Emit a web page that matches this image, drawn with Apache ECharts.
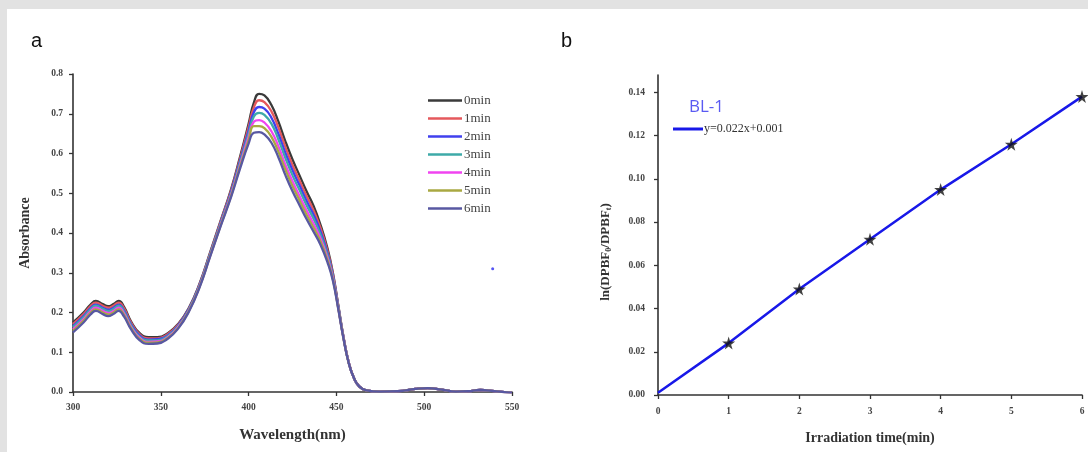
<!doctype html>
<html>
	<head>
		<meta charset="utf-8">
		<title>DPBF</title>
		<style>
			html, body { margin: 0; padding: 0; background: #e2e2e2; }
			#chart { width: 1088px; height: 452px; }
		</style>
	</head>
	<body>
		<div id="chart"></div>
	</body>
	<script src="https://cdn.jsdelivr.net/npm/echarts@6/dist/echarts.min.js"></script>
	<script type="text/javascript">
		// 波长 (nm)
		var wavelength = [300, 306, 310, 313, 317, 320, 323, 326, 329, 333, 338, 343, 348, 354, 360, 366, 372, 378, 384, 390,
			395, 400, 403, 406, 409, 413, 417, 421, 425, 429, 433, 437, 441, 445, 448, 451, 454, 457, 460, 463,
			467, 475, 485, 495, 502, 510, 518, 525, 532, 540, 550];
		var abs0 = [.175, .200, .220, .229, .221, .216, .221, .229, .215, .178, .148, .138, .138, .148, .172, .212, .272, .350, .430, .510,
			.590, .675, .728, .750, .746, .722, .680, .630, .585, .545, .505, .468, .420, .360, .300, .220, .140, .075, .035, .014,
			.004, .001, .002, .008, .010, .006, .001, .002, .005, .002, -.002];
		var abs1 = [.171, .196, .216, .225, .217, .212, .217, .225, .211, .175, .145, .135, .135, .146, .170, .210, .270, .348, .428, .507,
			.585, .667, .716, .734, .729, .706, .665, .616, .571, .532, .493, .457, .412, .354, .297, .218, .139, .075, .035, .014,
			.004, .001, .002, .008, .010, .006, .001, .002, .005, .002, -.002];
		var abs2 = [.166, .191, .211, .220, .212, .207, .212, .220, .206, .171, .142, .132, .133, .143, .168, .209, .269, .346, .425, .503,
			.580, .658, .704, .717, .713, .690, .649, .601, .558, .520, .481, .446, .403, .348, .293, .217, .138, .074, .035, .014,
			.004, .001, .002, .008, .010, .006, .001, .002, .005, .002, -.002];
		var abs3 = [.163, .188, .208, .217, .209, .204, .209, .217, .203, .168, .139, .130, .130, .141, .166, .207, .267, .345, .423, .500,
			.575, .650, .693, .702, .697, .675, .635, .588, .545, .508, .470, .436, .395, .343, .290, .215, .138, .074, .035, .014,
			.004, .001, .002, .008, .010, .006, .001, .002, .005, .002, -.002];
		var abs4 = [.158, .183, .203, .212, .204, .199, .204, .212, .198, .164, .136, .126, .127, .138, .164, .205, .265, .342, .420, .496,
			.569, .641, .680, .684, .678, .656, .618, .571, .530, .493, .457, .423, .386, .336, .286, .213, .137, .074, .035, .014,
			.004, .001, .002, .008, .010, .006, .001, .002, .005, .002, -.002];
		var abs5 = [.154, .179, .199, .208, .200, .195, .200, .208, .194, .161, .133, .124, .125, .136, .162, .204, .264, .341, .418, .493,
			.565, .633, .669, .669, .664, .642, .604, .559, .518, .482, .446, .413, .378, .331, .283, .212, .136, .073, .035, .014,
			.004, .001, .002, .008, .010, .006, .001, .002, .005, .002, -.002];
		var abs6 = [.150, .175, .195, .204, .196, .191, .196, .204, .190, .158, .130, .121, .122, .134, .160, .202, .262, .339, .416, .490,
			.560, .625, .652, .654, .648, .627, .590, .545, .505, .470, .435, .403, .370, .325, .280, .210, .135, .073, .035, .014,
			.004, .001, .002, .008, .010, .006, .001, .002, .005, .002, -.002];
		var timeNames = ['0min', '1min', '2min', '3min', '4min', '5min', '6min'];
		var timeColors = ['#3a3a3a', '#e5585c', '#4040ee', '#3eaaa8', '#f044f0', '#a9a842', '#5858a2'];
		var strayDot = [[539, 0.31]];

		// 辐照时间
		var irrTime = [0, 1, 2, 3, 4, 5, 6];
		var lnRatio = [0.001, 0.024, 0.049, 0.072, 0.095, 0.116, 0.138];
		var fitName = 'y=0.022x+0.001';

		var serif = '"Liberation Serif", "DejaVu Serif", serif';
		var star = 'path://M50,0 L61,35 L98,35 L68,57 L79,91 L50,70 L21,91 L32,57 L2,35 L39,35 Z';

		function pairs(xs, ys) {
			return xs.map(function (x, i) { return [x, ys[i]]; });
		}
		var absData = [abs0, abs1, abs2, abs3, abs4, abs5, abs6];

		var tickLabel = { fontFamily: serif, fontWeight: 'bold', fontSize: 9.5, color: '#444' };
		var axisLine = { lineStyle: { color: '#333', width: 1.6 } };
		var axisTick = { length: 4, lineStyle: { color: '#333', width: 1.3 } };

		var series = timeNames.map(function (n, i) {
			return {
				name: n,
				type: 'line',
				xAxisIndex: 0,
				yAxisIndex: 0,
				showSymbol: false,
				smooth: 0.5,
				lineStyle: { width: 2.3, color: timeColors[i] },
				itemStyle: { color: timeColors[i] },
				data: pairs(wavelength, absData[i])
			};
		});
		series.push({
			type: 'scatter', xAxisIndex: 0, yAxisIndex: 0,
			symbolSize: 3, itemStyle: { color: '#2a2af0' }, data: strayDot
		});
		series.push({
			name: fitName,
			type: 'line',
			xAxisIndex: 1,
			yAxisIndex: 1,
			showSymbol: false,
			lineStyle: { width: 2.5, color: '#1818e8' },
			itemStyle: { color: '#1818e8' },
			data: pairs(irrTime, lnRatio)
		});
		series.push({
			name: 'BL-1',
			type: 'scatter',
			xAxisIndex: 1,
			yAxisIndex: 1,
			symbol: star,
			symbolSize: 13,
			itemStyle: { color: '#111' },
			z: 5,
			data: pairs(irrTime.slice(1), lnRatio.slice(1))
		});

		var option = {
			backgroundColor: '#e2e2e2',
			animation: false,
			graphic: [{
				type: 'rect', left: 7, top: 9, z: -10,
				shape: { width: 1081, height: 443 },
				style: { fill: '#ffffff' }
			}],
			title: [
				{ text: 'a', left: 26, top: 26, textStyle: { fontFamily: '"Liberation Sans", Arial, sans-serif', fontSize: 20, fontWeight: 'normal', color: '#111' } },
				{ text: 'b', left: 556, top: 26, textStyle: { fontFamily: '"Liberation Sans", Arial, sans-serif', fontSize: 20, fontWeight: 'normal', color: '#111' } },
				{ text: 'BL-1', left: 684, top: 94, textStyle: { fontFamily: '"Open Sans", "Noto Sans", sans-serif', fontSize: 17, fontWeight: 'normal', color: '#5a5af2' } }
			],
			legend: [{
				data: timeNames,
				orient: 'vertical',
				left: 423,
				top: 89,
				icon: 'rect',
				itemWidth: 34,
				itemHeight: 2.5,
				itemGap: 5,
				textStyle: { fontFamily: serif, fontSize: 13, color: '#444', padding: [0, 0, 0, -3] }
			}, {
				data: [fitName],
				left: 668,
				top: 118,
				icon: 'rect',
				itemWidth: 30,
				itemHeight: 3,
				textStyle: { fontFamily: serif, fontSize: 12, color: '#333', padding: [0, 0, 0, -4] }
			}],
			grid: [
				{ left: 73, right: 576, top: 74, bottom: 60 },
				{ left: 658, right: 6, top: 75, bottom: 57 }
			],
			xAxis: [{
				gridIndex: 0,
				type: 'value',
				min: 300, max: 550, interval: 50,
				name: 'Wavelength(nm)',
				nameLocation: 'middle',
				nameGap: 36,
				nameTextStyle: { fontFamily: serif, fontWeight: 'bold', fontSize: 15, color: '#333' },
				axisLine: axisLine, axisTick: axisTick,
				axisLabel: Object.assign({ margin: 11 }, tickLabel),
				splitLine: { show: false }
			}, {
				gridIndex: 1,
				type: 'value',
				min: 0, max: 6, interval: 1,
				name: 'Irradiation time(min)',
				nameLocation: 'middle',
				nameGap: 36,
				nameTextStyle: { fontFamily: serif, fontWeight: 'bold', fontSize: 14, color: '#333' },
				axisLine: axisLine, axisTick: axisTick,
				axisLabel: Object.assign({ margin: 12 }, tickLabel),
				splitLine: { show: false }
			}],
			yAxis: [{
				gridIndex: 0,
				type: 'value',
				min: 0, max: 0.8, interval: 0.1,
				name: 'Absorbance',
				nameLocation: 'middle',
				nameGap: 41,
				nameTextStyle: { fontFamily: serif, fontWeight: 'bold', fontSize: 14, color: '#333' },
				axisLine: axisLine, axisTick: axisTick,
				axisLabel: Object.assign({ margin: 10, formatter: function (v) { return v.toFixed(1); } }, tickLabel),
				splitLine: { show: false }
			}, {
				gridIndex: 1,
				type: 'value',
				min: 0, max: 0.148, interval: 0.02,
				name: 'ln(DPBF{sub|0}/DPBF{sub|t})',
				nameLocation: 'middle',
				nameGap: 45,
				nameTextStyle: {
					fontFamily: serif, fontWeight: 'bold', fontSize: 13, color: '#333', padding: [0, 34, 0, 0],
					rich: { sub: { fontFamily: serif, fontWeight: 'bold', fontSize: 8, color: '#333', verticalAlign: 'bottom', padding: [6, 0, 0, 0] } }
				},
				axisLine: axisLine, axisTick: axisTick,
				axisLabel: Object.assign({ margin: 13, showMaxLabel: false, formatter: function (v) { return v.toFixed(2); } }, tickLabel),
				splitLine: { show: false }
			}],
			series: series
		};

		var myChart = echarts.init(document.getElementById('chart'));
		myChart.setOption(option);
	</script>
</html>
